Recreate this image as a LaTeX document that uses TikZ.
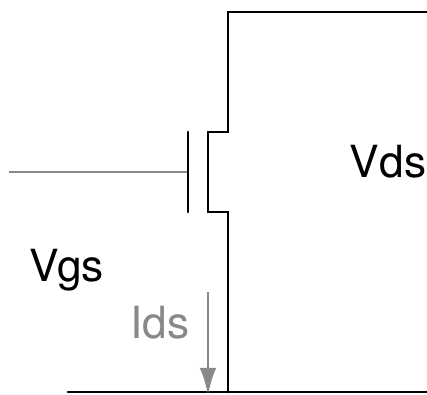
\documentclass[tikz,border=0pt]{standalone}
\usepackage{fontspec}
\setmainfont{TeX Gyre Heros}
\usetikzlibrary{arrows.meta}
\tikzset{wire/.style={line width=2pt, line cap=round, line join=miter}}
\tikzset{sense/.style={line width=2pt, color=senseGray}}
\tikzset{current/.style={sense, -{Latex[length=.68cm, width=.42cm]}, shorten >=-.075cm}}
\tikzset{label/.style={anchor=base, inner sep=0pt, font=\fontsize{31.5}{31.5}\selectfont}}
\definecolor{senseGray}{RGB}{136,136,136}

\begin{document}
\begin{tikzpicture}
  \useasboundingbox (0,0) rectangle (10.675,9.875);

  % --- terminals ---
  \coordinate (Gin) at (.225,5.575);
  \coordinate (Gate) at (4.7,5.575);
  \coordinate (GateTop) at (4.7,6.575);
  \coordinate (GateBot) at (4.7,4.575);
  \coordinate (ChTop) at (5.2,6.575);
  \coordinate (ChBot) at (5.2,4.575);
  \coordinate (DrainIn) at (5.7,6.575);
  \coordinate (SrcIn) at (5.7,4.575);
  \coordinate (DrainUp) at (5.7,9.575);
  \coordinate (DrainEnd) at (10.675,9.575);
  \coordinate (SrcEnd) at (5.7,.075);
  \coordinate (RailL) at (1.7,.075);
  \coordinate (RailR) at (10.675,.075);
  \coordinate (IdsTop) at (5.2,2.575);
  \coordinate (IdsEnd) at (5.2,.075);

  % --- transistor ---
  \draw[sense] (Gin) -- (Gate);
  \draw[wire] (GateTop) -- (GateBot);
  \draw[wire] (DrainEnd) -- (DrainUp) -- (DrainIn) -- (ChTop) -- (ChBot) -- (SrcIn) -- (SrcEnd);
  \draw[wire] (RailL) -- (RailR);

  % --- current and voltages ---
  \draw[current] (IdsTop) -- (IdsEnd);
  \node[label] (Vds) at (9.7,5.425) {Vds};
  \node[label] (Vgs) at (1.675,2.825) {Vgs};
  \node[label, color=senseGray] (Ids) at (4,1.4) {Ids};
\end{tikzpicture}
\end{document}
